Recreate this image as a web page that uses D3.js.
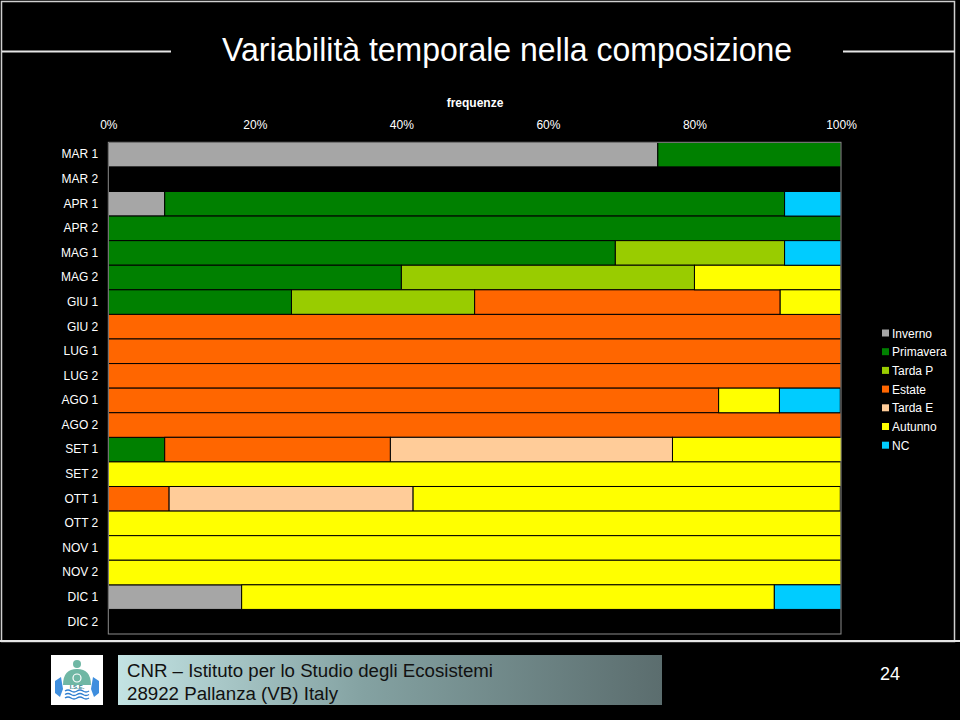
<!DOCTYPE html>
<html>
<head>
<meta charset="utf-8">
<script src="https://cdn.jsdelivr.net/npm/d3@7"></script>
<style>
  body { margin: 0; background: #000; }
  svg { display: block; }
  text { font-family: "Liberation Sans", Arial, sans-serif; }
</style>
</head>
<body>
<svg id="slide" width="960" height="720"></svg>
<script>
// periodi (righe del grafico)
var periods = ["MAR 1","MAR 2","APR 1","APR 2","MAG 1","MAG 2","GIU 1","GIU 2","LUG 1","LUG 2",
               "AGO 1","AGO 2","SET 1","SET 2","OTT 1","OTT 2","NOV 1","NOV 2","DIC 1","DIC 2"];

// frequenze % per gruppo, una voce per periodo
var inverno   = [75, 0, 7.7, 0, 0, 0, 0, 0, 0, 0, 0, 0, 0, 0, 0, 0, 0, 0, 18.2, 0];
var primavera = [25, 0, 84.6, 100, 69.2, 40, 25, 0, 0, 0, 0, 0, 7.7, 0, 0, 0, 0, 0, 0, 0];
var tardaP    = [0, 0, 0, 0, 23.1, 40, 25, 0, 0, 0, 0, 0, 0, 0, 0, 0, 0, 0, 0, 0];
var estate    = [0, 0, 0, 0, 0, 0, 41.7, 100, 100, 100, 83.3, 100, 30.8, 0, 8.3, 0, 0, 0, 0, 0];
var tardaE    = [0, 0, 0, 0, 0, 0, 0, 0, 0, 0, 0, 0, 38.5, 0, 33.3, 0, 0, 0, 0, 0];
var autunno   = [0, 0, 0, 0, 0, 20, 8.3, 0, 0, 0, 8.3, 0, 23.1, 100, 58.3, 100, 100, 100, 72.7, 0];
var nc        = [0, 0, 7.7, 0, 7.7, 0, 0, 0, 0, 0, 8.3, 0, 0, 0, 0, 0, 0, 0, 9.1, 0];

var seriesNames  = ["Inverno","Primavera","Tarda P","Estate","Tarda E","Autunno","NC"];
var seriesValues = [inverno, primavera, tardaP, estate, tardaE, autunno, nc];
var seriesColors = ["#a6a6a6","#008000","#99cc00","#ff6600","#ffcc99","#ffff00","#00ccff"];
var xTicks = [0, 20, 40, 60, 80, 100];

var svg = d3.select("#slide");

// cornice della slide
svg.append("rect")
    .attr("x", 1.5).attr("y", 1.5).attr("width", 953).attr("height", 640)
    .attr("fill", "none").attr("stroke", "#cfcfcf").attr("stroke-width", 1.5);
svg.append("line")
    .attr("x1", 0).attr("x2", 960).attr("y1", 641).attr("y2", 641)
    .attr("stroke", "#e6e6e6").attr("stroke-width", 2);

// titolo
svg.append("line").attr("x1", 2).attr("x2", 171).attr("y1", 51.5).attr("y2", 51.5)
    .attr("stroke", "#e6e6e6").attr("stroke-width", 2);
svg.append("line").attr("x1", 843).attr("x2", 955).attr("y1", 51.5).attr("y2", 51.5)
    .attr("stroke", "#e6e6e6").attr("stroke-width", 2);
svg.append("text")
    .attr("x", 222).attr("y", 61)
    .attr("fill", "#fff")
    .style("font-size", "34px")
    .attr("textLength", 570).attr("lengthAdjust", "spacingAndGlyphs")
    .text("Variabilità temporale nella composizione");

// grafico
var plotL = 108.3, plotR = 841, plotT = 142.3, plotB = 634;

var rows = periods.map(function(p, i) {
    var r = { period: p };
    seriesNames.forEach(function(s, j) { r[s] = seriesValues[j][i]; });
    return r;
});
var stacked = d3.stack().keys(seriesNames)(rows);

var x = d3.scaleLinear().domain([0, 100]).range([plotL, plotR]);
var y = d3.scaleBand().domain(periods).range([plotT, plotB]).padding(0);
var color = d3.scaleOrdinal().domain(seriesNames).range(seriesColors);

var g = svg.append("g");

g.selectAll("g.serie")
    .data(stacked)
    .enter().append("g")
    .attr("class", "serie")
    .attr("fill", function(d) { return color(d.key); })
    .selectAll("rect")
    .data(function(d) { return d.filter(function(v) { return v[1] - v[0] > 0; }); })
    .enter().append("rect")
    .attr("x", function(d) { return x(d[0]); })
    .attr("y", function(d) { return y(d.data.period); })
    .attr("width", function(d) { return x(d[1]) - x(d[0]); })
    .attr("height", y.bandwidth())
    .attr("stroke", "#000")
    .attr("stroke-width", 1);

// bordo area del grafico
svg.append("rect")
    .attr("x", plotL).attr("y", plotT).attr("width", plotR - plotL).attr("height", plotB - plotT)
    .attr("fill", "none").attr("stroke", "#8c8c8c").attr("stroke-width", 1);

// assi
var xAxis = svg.append("g")
    .attr("transform", "translate(0," + plotT + ")")
    .call(d3.axisTop(x).tickValues(xTicks).tickSize(0).tickPadding(13)
        .tickFormat(function(d) { return d + "%"; }));
var yAxis = svg.append("g")
    .attr("transform", "translate(" + plotL + ",0)")
    .call(d3.axisLeft(y).tickSize(0).tickPadding(10));

[xAxis, yAxis].forEach(function(a) {
    a.select(".domain").remove();
    a.selectAll("text")
        .attr("fill", "#fff")
        .style("font-family", "'Liberation Sans', Arial, sans-serif")
        .style("font-size", "12px");
});

svg.append("text")
    .attr("x", 475).attr("y", 107)
    .attr("text-anchor", "middle")
    .attr("fill", "#fff")
    .style("font-size", "12px").style("font-weight", "bold")
    .text("frequenze");

// legenda
var legend = svg.append("g").selectAll("g")
    .data(seriesNames)
    .enter().append("g")
    .attr("transform", function(d, i) { return "translate(882," + (333 + i * 18.7) + ")"; });
legend.append("rect")
    .attr("x", 0).attr("y", -3.5).attr("width", 7).attr("height", 7)
    .attr("fill", function(d) { return color(d); });
legend.append("text")
    .attr("x", 10).attr("y", 4.5)
    .attr("fill", "#fff")
    .style("font-size", "12px")
    .text(function(d) { return d; });

// pie di pagina
var defs = svg.append("defs");
var grad = defs.append("linearGradient").attr("id", "foot").attr("x1", "0%").attr("x2", "100%");
grad.append("stop").attr("offset", "0%").attr("stop-color", "#c3e3e3");
grad.append("stop").attr("offset", "45%").attr("stop-color", "#84a2a2");
grad.append("stop").attr("offset", "100%").attr("stop-color", "#5b6d6e");

svg.append("rect")
    .attr("x", 118).attr("y", 655).attr("width", 544).attr("height", 50)
    .attr("fill", "url(#foot)");
svg.append("text")
    .attr("x", 127).attr("y", 677)
    .attr("fill", "#111")
    .style("font-size", "18px")
    .attr("textLength", 366).attr("lengthAdjust", "spacingAndGlyphs")
    .text("CNR – Istituto per lo Studio degli Ecosistemi");
svg.append("text")
    .attr("x", 127).attr("y", 700)
    .attr("fill", "#111")
    .style("font-size", "18px")
    .attr("textLength", 211).attr("lengthAdjust", "spacingAndGlyphs")
    .text("28922 Pallanza (VB) Italy");

svg.append("text")
    .attr("x", 890).attr("y", 680)
    .attr("text-anchor", "middle")
    .attr("fill", "#fff")
    .style("font-size", "18px")
    .text("24");

// logo
var logo = svg.append("g").attr("transform", "translate(51,655)");
logo.append("rect").attr("width", 52).attr("height", 50).attr("fill", "#fff");
logo.append("path")
    .attr("d", "M12,30 Q12,14 26,14 Q40,14 40,30 Z")
    .attr("fill", "#6fb7a4");
logo.append("circle").attr("cx", 26).attr("cy", 9).attr("r", 4).attr("fill", "#6fb7a4");
logo.append("circle").attr("cx", 26).attr("cy", 23).attr("r", 4)
    .attr("fill", "none").attr("stroke", "#fff").attr("stroke-width", 1.2);
logo.append("text").attr("x", 26).attr("y", 34).attr("text-anchor", "middle")
    .attr("fill", "#3a7f8c").style("font-size", "6px").style("font-weight", "bold").text("I.S.E.");
[36, 39.5, 43].forEach(function(yy) {
    logo.append("path")
        .attr("d", "M14," + yy + " q3,-2 6,0 t6,0 t6,0 t6,0")
        .attr("fill", "none").attr("stroke", "#2f7fd0").attr("stroke-width", 1.5);
});
logo.append("path").attr("d", "M4,26 L10,22 L12,34 L9,42 L4,38 Z").attr("fill", "#3e8ede");
logo.append("path").attr("d", "M48,26 L42,22 L40,34 L43,42 L48,38 Z").attr("fill", "#3e8ede");
</script>
</body>
</html>
